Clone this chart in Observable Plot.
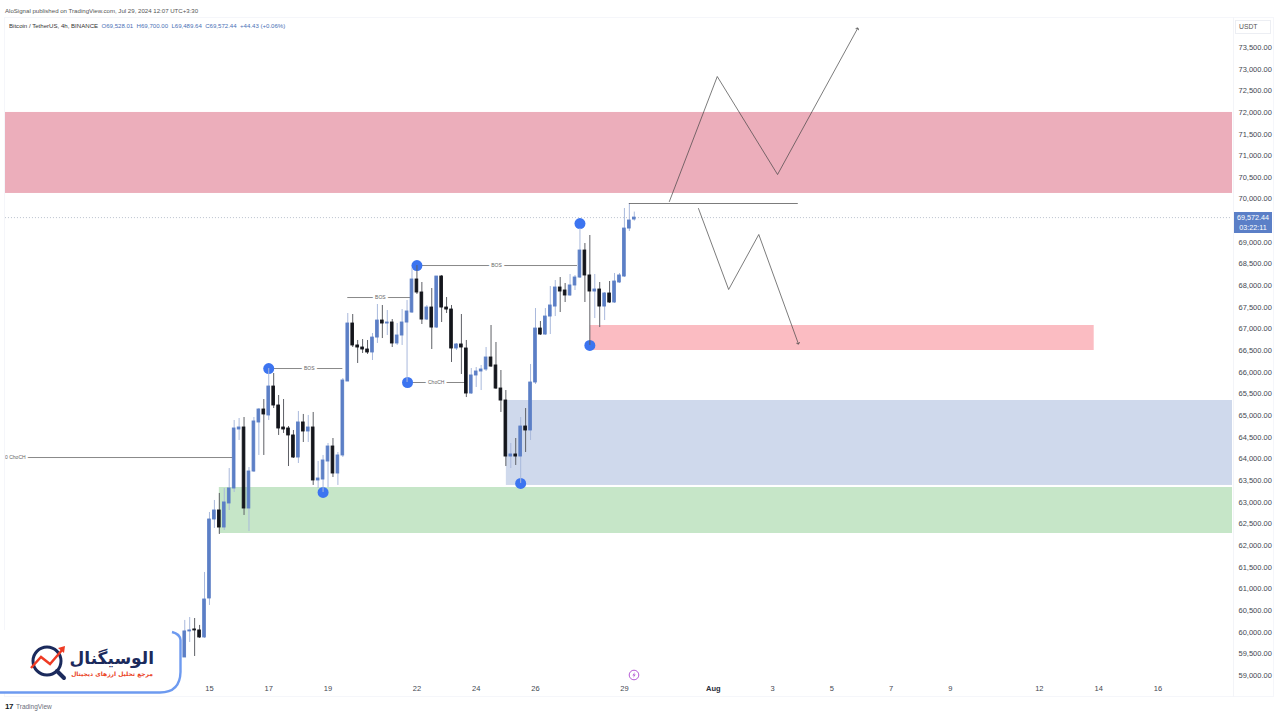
<!DOCTYPE html>
<html><head><meta charset="utf-8">
<script src="https://cdn.jsdelivr.net/npm/d3@7"></script>
<script src="https://cdn.jsdelivr.net/npm/@observablehq/plot@0.6"></script>
<style>
html,body{margin:0;padding:0;background:#fff;width:1280px;height:720px;overflow:hidden;font-family:"Liberation Sans",Arial,sans-serif}
#page{position:relative;width:1280px;height:720px}
#head{height:17px;font-size:6.1px;line-height:22px;padding-left:5px;color:#555;white-space:nowrap}
#chart{height:680px}
#chart svg{display:block}
#foot{height:23px;position:relative}
.abs{position:absolute;white-space:nowrap}
</style></head><body>
<div id="page">
<div id="head">AloSignal published on TradingView.com, Jul 29, 2024 12:07 UTC+3:30</div>
<div id="chart"></div>
<div id="foot"></div>
</div>
<script>
const opens=[59416,60017,60063,60040,59878,60778,62602,62810,62417,62972,63318,64680,64726,62856,63710,64842,65141,65004,65672,65234,64726,64703,64542,64033,64842,64634,64726,63503,63525,63941,64287,63664,64080,65788,67127,66620,66573,66527,66458,66803,67196,67127,67150,66666,66850,67150,67381,68143,67843,67219,67496,67034,68212,67496,67450,66550,66643,66550,65511,65927,66019,66065,66342,66158,65626,65349,64056,64103,64056,64749,64657,65765,67011,66873,67288,67519,67958,67889,67774,68005,68189,68812,68236,67866,67912,67519,67820,67612,68074,68212,69320,69528.01];
const closes=[60017,60040,60040,59878,60755,62602,62810,62417,62995,63318,64703,64726,62856,63710,64865,65141,65027,65672,65234,64703,64680,64542,64033,64842,64634,64726,63503,63548,63964,64287,63664,64080,65811,67127,66620,66573,66527,66458,66803,67196,67127,67150,66666,66850,67150,67404,68143,67843,67219,67496,67034,68212,67496,67450,66550,66643,66573,65511,65927,66019,66065,66342,66134,65626,65349,64056,64103,64056,64749,64657,65765,67011,66873,67288,67543,67958,67866,67774,68005,68189,68812,68236,67866,67912,67519,67820,67612,68097,68236,69320,69505,69572.44];
const highs=[60271,60339,60316,60156,61379,62764,63041,63203,63318,63779,64888,64934,64957,63802,64957,65164,65372,66088,65973,65465,65372,64749,64657,65096,65027,65004,65073,63941,64080,64357,64472,64149,65857,67358,67335,66735,66757,66735,66896,67566,67543,67427,67219,67127,67450,67658,68396,68466,68074,67543,67935,68212,68236,67727,67543,66666,67335,66735,66088,66111,66158,66573,67081,66689,66042,65580,64357,64472,64957,65164,66181,67473,67173,67473,67981,68120,68189,68051,68259,68236,69320,68974,69159,68259,68074,67843,68097,68282,68282,69782,69898,69700];
const lows=[59416,59763,59439,59855,59855,60617,62394,62256,62348,62810,63226,64426,62695,62325,63687,64080,64080,64888,65164,64542,64588,63825,64010,63895,64380,64380,63388,63318,63226,63341,63571,63388,64033,65788,66573,66204,66435,66412,66273,66666,66780,66850,66573,66620,66620,65765,67358,67797,67104,67196,66527,67011,67150,67358,66227,66504,65950,65418,65488,65649,65580,66019,66111,65603,65073,63825,63779,63849,63434,64149,64426,65719,66850,66850,66873,67288,67381,67612,67750,67889,68166,67612,66620,67242,67034,67196,67589,67589,68051,68189,69251,69489.64];
const firstBar=-5;

const zoneRed={x1:-41.3,x2:207.1,top:72000,bottom:70130,color:"#ecaebb"};
const zonePink={x1:77.1,x2:179.1,top:67081,bottom:66504,color:"#fbbcc2"};
const zoneBlue={x1:60.1,x2:207.1,top:65349,bottom:63388,color:"#cfd9ec"};
const zoneGreen={x1:2,x2:207.1,top:63341,bottom:62279,color:"#c6e6c8"};
const zones=[zoneRed,zonePink,zoneBlue,zoneGreen];

const upBars=[93.1,102.8,115,131.2];
const upPrices=[69944,72830,70567,73938];
const downBars=[99,105.1,111.2,119.2];
const downPrices=[69782,67912,69182,66665];
const levelBars=[85,119.2];
const levelPrice=69898;

const swingBars=[12,23,40.1,42,63,75,77];
const swingPrices=[66088,63226,65765,68466,63434,69435,66620];

const labels=["0 ChoCH","BOS","BOS","BOS","ChoCH"];
const labelPrices=[64033,66088,67727,68466,65765];
const labelStart=[-37.2,12,28,42,40.1];
const labelEnd=[4.8,27,41,74.5,52];
const labelAt=[-39.3,20.2,34.6,58.1,45.9];

const lastPrice=69572.44;
const dayTicks=[0,12,24,42,54,66,84,114,126,138,150,168,180,192];
const dayNames=["15","17","19","22","24","26","29","3","5","7","9","12","14","16"];
const monthTicks=[102];
const monthNames=["Aug"];
const priceTicks=d3.range(59000,73501,500).filter(v=>v!==69500);

const bars=opens.map((o,k)=>({i:firstBar+k,o,c:closes[k],h:highs[k],l:lows[k]}));
const up=d=>d.c>=d.o;
const pts=(xs,ys)=>xs.map((x,k)=>({x,y:ys[k]}));
const segs=labels.map((t,k)=>({t,y:labelPrices[k],a:labelStart[k],b:labelEnd[k],m:labelAt[k]}));
const nameOf=(t,n)=>d=>n[t.indexOf(d)];

const chart=Plot.plot({
  width:1280,height:680,marginLeft:0,marginRight:47,marginTop:30,marginBottom:22,
  style:{background:"transparent",fontFamily:"'Liberation Sans',Arial,sans-serif",overflow:"visible"},
  x:{type:"linear",domain:[-42.3,207.3]},
  y:{type:"linear",domain:[59000,73500]},
  marks:[
    Plot.rect(zones,{x1:"x1",x2:"x2",y1:"top",y2:"bottom",fill:"color"}),
    Plot.ruleY([lastPrice],{x1:-41.3,x2:207.1,stroke:"#aab2c2",strokeWidth:0.8,strokeDasharray:"1 2"}),
    Plot.ruleY(segs,{y:"y",x1:"a",x2:"b",stroke:"#555",strokeWidth:0.7}),
    Plot.text(segs,{x:"m",y:"y",text:"t",fontSize:5,fill:"#666",stroke:"white",strokeWidth:5}),
    Plot.dot(pts(swingBars,swingPrices),{x:"x",y:"y",r:5.5,fill:"#3c74f0"}),
    Plot.ruleX(bars,{x:"i",y1:"l",y2:"h",strokeWidth:1,stroke:d=>up(d)?"#a9b9dc":"#5e6066"}),
    Plot.rect(bars,{x1:d=>d.i-0.27,x2:d=>d.i+0.27,y1:d=>Math.min(d.o,d.c),y2:d=>Math.max(d.o,d.c),
      fill:d=>up(d)?"#5c7fc6":"#14161c",stroke:d=>up(d)?"#5c7fc6":"#14161c",strokeWidth:0.9}),
    Plot.ruleY([levelPrice],{x1:levelBars[0],x2:levelBars[1],stroke:"#444",strokeWidth:0.7}),
    Plot.line(pts(upBars,upPrices),{x:"x",y:"y",stroke:"#444",strokeWidth:0.7,markerEnd:"arrow"}),
    Plot.line(pts(downBars,downPrices),{x:"x",y:"y",stroke:"#444",strokeWidth:0.7,markerEnd:"arrow"}),
    Plot.axisY({anchor:"right",ticks:priceTicks,tickSize:0,tickPadding:5,tickFormat:d3.format(",.2f"),fontSize:7.5,color:"#444852",label:null}),
    Plot.axisX({anchor:"bottom",ticks:dayTicks,tickSize:0,tickPadding:10,tickFormat:nameOf(dayTicks,dayNames),fontSize:7.5,color:"#444852",label:null}),
    Plot.axisX({anchor:"bottom",ticks:monthTicks,tickSize:0,tickPadding:10,tickFormat:nameOf(monthTicks,monthNames),fontSize:7.5,fontWeight:"bold",color:"#2a2e39",label:null})
  ]
});
document.getElementById("chart").appendChild(chart);

const page=document.getElementById("page");
function overlay(html){const t=document.createElement("div");t.innerHTML=html;while(t.firstChild)page.appendChild(t.firstChild);}
overlay(`
<div class="abs" style="left:4px;top:17px;width:1270px;height:680px;border:1px solid #f5f6fa;box-sizing:border-box"></div>
<div class="abs" style="left:1233px;top:17px;width:1px;height:680px;background:#f3f4f8"></div>
<div class="abs" style="left:9px;top:21px;font-size:6.08px;line-height:9px;color:#333">Bitcoin / TetherUS, 4h, BINANCE&nbsp; <span style="color:#4a6fb5">O69,528.01&nbsp; H69,700.00&nbsp; L69,489.64&nbsp; C69,572.44&nbsp; +44.43 (+0.06%)</span></div>
<div class="abs" style="left:1235px;top:20px;width:36px;height:14px;border:1px solid #eceef3;font-size:6.8px;line-height:12px;color:#555;padding-left:3px;box-sizing:border-box">USDT</div>
<div class="abs" style="left:1234px;top:212px;width:38px;height:21px;background:#5b7fc7;color:#fff;font-size:7.2px;line-height:9.5px;text-align:center;padding-top:1px;box-sizing:border-box">69,572.44<br>03:22:11</div>
<svg class="abs" style="left:628px;top:669px" width="12" height="12" viewBox="0 0 12 12"><circle cx="6" cy="6" r="4.8" fill="#fff" stroke="#b65bd6" stroke-width="1"/><path d="M6.8 3 L4.4 6.4 H6 L5.2 9 L7.7 5.5 H6.1 Z" fill="#b65bd6"/></svg>
<svg class="abs" style="left:0;top:630px" width="186" height="66" viewBox="0 0 186 66">
  <path d="M0 62 H160 Q180 62 180 42 V10 Q180 4 172 2 L165 0 H0 Z" fill="#fff"/>
  <path d="M0 62.5 H160 Q180 62.5 180.5 42 V10 Q180 4 172 2" fill="none" stroke="#6d9af0" stroke-width="2.4"/>
  <circle cx="47" cy="31" r="14" fill="#fff" stroke="#1b2a5c" stroke-width="3"/>
  <path d="M57 41 L64 48" stroke="#1b2a5c" stroke-width="4" stroke-linecap="round"/>
  <path d="M31 38 L41 27 L50 34 L63 19" fill="none" stroke="#ee3b24" stroke-width="2.4"/>
  <path d="M65 16 L58 18 L64 23 Z" fill="#ee3b24"/>
  <text x="154" y="34" text-anchor="start" font-family="'DejaVu Sans'" font-weight="bold" font-size="17" fill="#1b2a5c" direction="rtl">الوسیگنال</text>
  <text x="153" y="46" text-anchor="start" font-family="'DejaVu Sans'" font-weight="bold" font-size="6" fill="#ea431f" direction="rtl">مرجع تحلیل ارزهای دیجیتال</text>
</svg>
`);
document.getElementById("foot").innerHTML=`<span class="abs" style="left:5px;top:5px;font-size:8px;font-weight:bold;color:#131722;letter-spacing:-.5px">17</span><span class="abs" style="left:16px;top:6px;font-size:6.5px;color:#6a6d78">TradingView</span>`;
</script>
</body></html>
